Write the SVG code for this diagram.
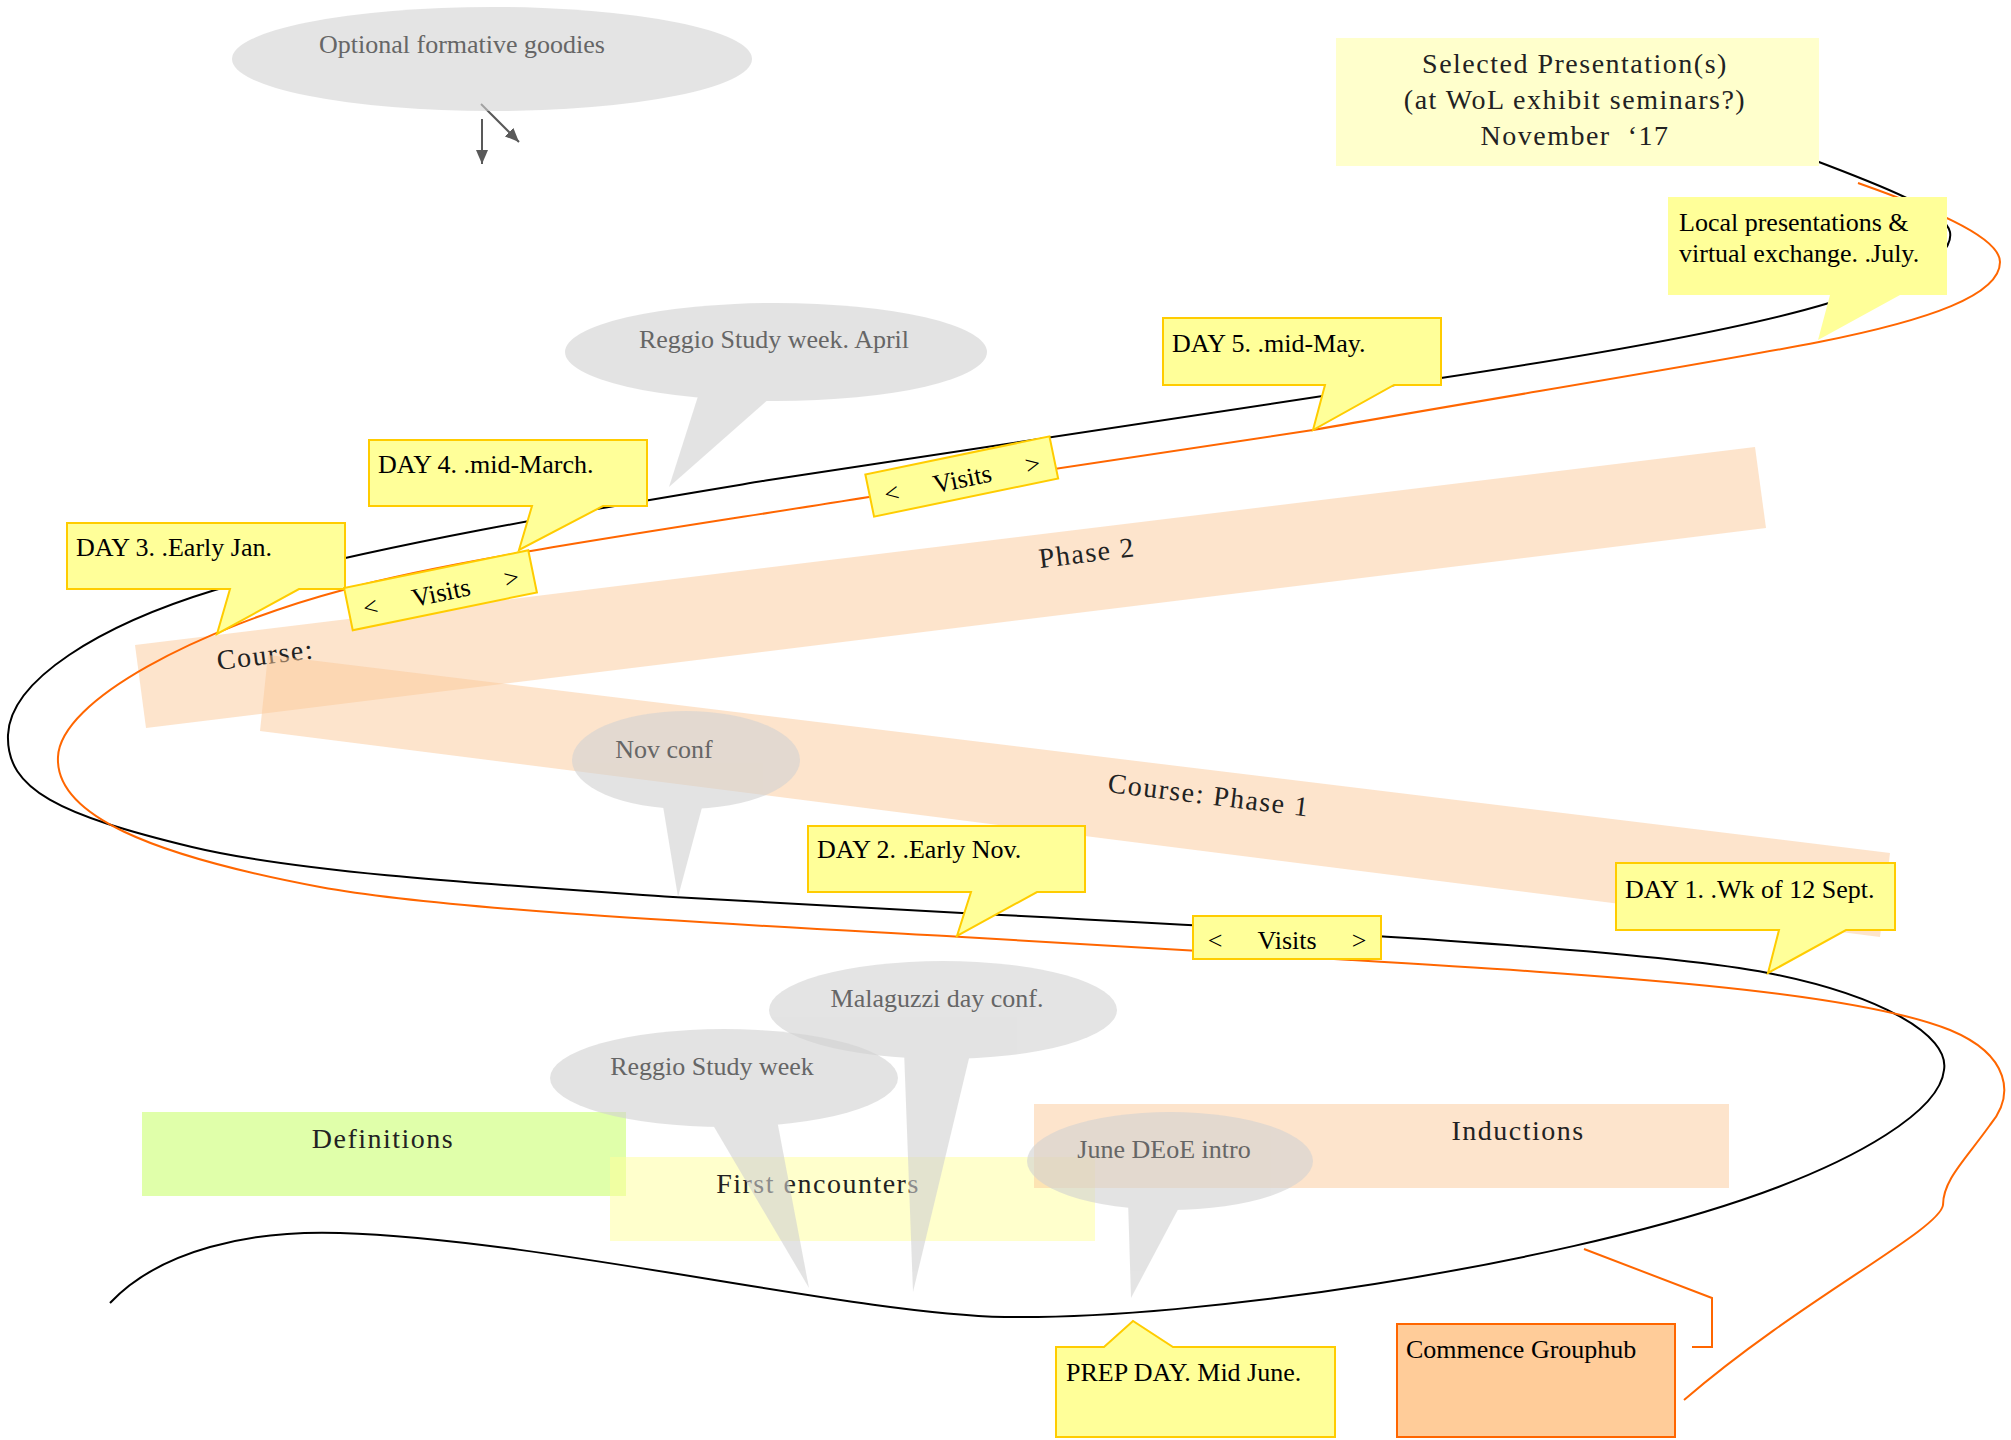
<svg xmlns="http://www.w3.org/2000/svg" width="2011" height="1440" viewBox="0 0 2011 1440">
<style>
.band{fill:#fbc999;fill-opacity:0.5}
.lbl{font-family:"Liberation Serif","Times New Roman",serif;font-size:28px;letter-spacing:1.5px;fill:#222}
.bub{fill:#d2d2d2}
.bubt{font-family:"Liberation Serif","Times New Roman",serif;font-size:26px;fill:#666;text-anchor:middle}
.call{fill:#ffff99;stroke:#ffcc00;stroke-width:2}
.ct{font-family:"Liberation Serif","Times New Roman",serif;font-size:26px;fill:#000}
.road{fill:none;stroke:#000;stroke-width:2}
.or{fill:none;stroke:#ff6600;stroke-width:2}
.arr{stroke:#595959;stroke-width:2;fill:none}
</style>
<defs>
<marker id="ah" markerUnits="userSpaceOnUse" markerWidth="15" markerHeight="12" refX="14" refY="6" orient="auto">
<path d="M0,0 L14,6 L0,12 Z" fill="#595959"/>
</marker>
</defs>
<rect width="2011" height="1440" fill="#fff"/>

<g id="phase2">
<polygon class="band" points="135,645 1755,447 1766,528 146,728"/>
<text class="lbl" transform="translate(218,670) rotate(-7)">Course:</text>
<text class="lbl" transform="translate(1040,568) rotate(-7)">Phase 2</text>
</g>
<g id="phase1">
<polygon class="band" points="268,655 1890,853 1880,937 260,731"/>
<text class="lbl" transform="translate(1107,792) rotate(7)">Course: Phase 1</text>
</g>
<g id="definitions">
<rect x="142" y="1112" width="484" height="84" fill="#e0ffaa"/>
<text class="lbl" x="383" y="1148" text-anchor="middle">Definitions</text>
</g>
<g id="first-encounters">
<rect x="610" y="1157" width="485" height="84" fill="#ffff99" fill-opacity="0.5"/>
<text class="lbl" x="818" y="1193" text-anchor="middle">First encounters</text>
</g>
<g id="inductions">
<rect x="1034" y="1104" width="695" height="84" class="band"/>
<text class="lbl" x="1518" y="1140" text-anchor="middle">Inductions</text>
</g>

<g id="connectors">
<path class="road" d="M1811,159 C1880,185 1945,210 1950,232 C1955,262 1890,285 1829,303 C1740,330 1560,360 1441,378 L769,480 C600,508 400,540 215,590 C100,625 10,680 8,735 C6,790 60,815 192,847 C300,873 500,885 673,897 L962,913 C1300,930 1650,950 1768,973 C1880,995 1950,1035 1944,1070 C1940,1110 1860,1160 1742,1200 C1550,1265 1200,1320 1005,1317 C850,1314 550,1240 340,1233 C250,1230 160,1250 110,1303"/>
<path class="or" d="M1858,183 C1920,205 2000,235 2000,262 C2000,295 1930,320 1819,342 C1700,365 1500,397 1313,430 L869,497 C650,532 450,560 343,590 C200,628 60,700 58,757 C55,815 150,855 320,887 C450,911 750,925 962,937 L1351,960 C1600,975 1850,990 1950,1030 C2010,1055 2015,1095 1990,1125 C1965,1160 1943,1180 1943,1205 C1940,1230 1800,1300 1684,1400"/>
<polyline class="or" points="1584,1249 1712,1298 1712,1347 1692,1347"/>
<line class="arr" x1="482" y1="119" x2="482" y2="164" marker-end="url(#ah)"/>
<line class="arr" x1="481" y1="104" x2="519" y2="142" marker-end="url(#ah)"/>
</g>

<g id="optional-goodies">
<g opacity="0.6"><ellipse class="bub" cx="492" cy="59" rx="260" ry="52"/></g>
<text class="bubt" x="462" y="53">Optional formative goodies</text>
</g>
<g id="reggio-april">
<g opacity="0.6"><ellipse class="bub" cx="776" cy="352" rx="211" ry="49"/><polygon class="bub" points="700,390 669,487 779,390"/></g>
<text class="bubt" x="774" y="348">Reggio Study week. April</text>
</g>
<g id="nov-conf">
<g opacity="0.6"><ellipse class="bub" cx="686" cy="760" rx="114" ry="49"/><polygon class="bub" points="662,800 678,897 704,800"/></g>
<text class="bubt" x="664" y="758">Nov conf</text>
</g>
<g id="malaguzzi">
<g opacity="0.6"><ellipse class="bub" cx="943" cy="1010" rx="174" ry="49"/><polygon class="bub" points="904,1050 913,1292 971,1050"/></g>
<text class="bubt" x="937" y="1007">Malaguzzi day conf.</text>
</g>
<g id="reggio-week">
<g opacity="0.6"><ellipse class="bub" cx="724" cy="1078" rx="174" ry="49"/><polygon class="bub" points="710,1120 809,1288 777,1120"/></g>
<text class="bubt" x="712" y="1075">Reggio Study week</text>
</g>
<g id="june-deoe">
<g opacity="0.6"><ellipse class="bub" cx="1170" cy="1161" rx="143" ry="49"/><polygon class="bub" points="1128,1200 1131,1298 1183,1200"/></g>
<text class="bubt" x="1164" y="1158">June DEoE intro</text>
</g>

<g id="day1">
<path class="call" d="M1616,863 H1895 V930 H1846 L1768,973 L1779,930 H1616 Z"/>
<text class="ct" x="1625" y="898">DAY 1. .Wk of 12 Sept.</text>
</g>
<g id="day2">
<path class="call" d="M808,826 H1085 V892 H1037 L957,936 L971,892 H808 Z"/>
<text class="ct" x="817" y="858">DAY 2. .Early Nov.</text>
</g>
<g id="day3">
<path class="call" d="M67,523 H345 V589 H299 L217,634 L230,589 H67 Z"/>
<text class="ct" x="76" y="556">DAY 3. .Early Jan.</text>
</g>
<g id="day4">
<path class="call" d="M369,440 H647 V506 H603 L519,550 L532,506 H369 Z"/>
<text class="ct" x="378" y="473">DAY 4. .mid-March.</text>
</g>
<g id="day5">
<path class="call" d="M1163,318 H1441 V385 H1394 L1313,430 L1325,385 H1163 Z"/>
<text class="ct" x="1172" y="352">DAY 5. .mid-May.</text>
</g>
<g id="local-presentations">
<path d="M1668,197 H1947 V295 H1900 L1818,340 L1830,295 H1668 Z" fill="#ffff99"/>
<text class="ct" x="1679" y="231">Local presentations &amp;</text>
<text class="ct" x="1679" y="262">virtual exchange. .July.</text>
</g>
<g id="prep-day">
<path class="call" d="M1056,1347 H1104 L1133,1321 L1173,1347 H1335 V1437 H1056 Z"/>
<text class="ct" x="1066" y="1381">PREP DAY. Mid June.</text>
</g>
<g id="grouphub">
<rect x="1397" y="1324" width="278" height="113" fill="#ffcc99" stroke="#ff6600" stroke-width="2"/>
<text class="ct" x="1406" y="1358">Commence Grouphub</text>
</g>

<g id="visits1" transform="translate(1287,937.5)">
<rect class="call" x="-94" y="-21.5" width="188" height="43"/>
<text class="ct" x="-72" y="11" text-anchor="middle">&lt;</text>
<text class="ct" x="0" y="11" text-anchor="middle">Visits</text>
<text class="ct" x="72" y="11" text-anchor="middle">&gt;</text>
</g>
<g id="visits2" transform="translate(961.75,476.5) rotate(-11.7)">
<rect class="call" x="-94" y="-21.5" width="188" height="43"/>
<text class="ct" x="-72" y="11" text-anchor="middle">&lt;</text>
<text class="ct" x="0" y="11" text-anchor="middle">Visits</text>
<text class="ct" x="72" y="11" text-anchor="middle">&gt;</text>
</g>
<g id="visits3" transform="translate(440.5,590.25) rotate(-11.6)">
<rect class="call" x="-94" y="-21.5" width="188" height="43"/>
<text class="ct" x="-72" y="11" text-anchor="middle">&lt;</text>
<text class="ct" x="0" y="11" text-anchor="middle">Visits</text>
<text class="ct" x="72" y="11" text-anchor="middle">&gt;</text>
</g>

<g id="selected-presentations">
<rect x="1336" y="38" width="483" height="128" fill="#ffffcc"/>
<text class="lbl" x="1575" y="73" text-anchor="middle" fill="#333">Selected Presentation(s)</text>
<text class="lbl" x="1575" y="109" text-anchor="middle">(at WoL exhibit seminars?)</text>
<text class="lbl" x="1575" y="145" text-anchor="middle" xml:space="preserve">November  ‘17</text>
</g>
</svg>
